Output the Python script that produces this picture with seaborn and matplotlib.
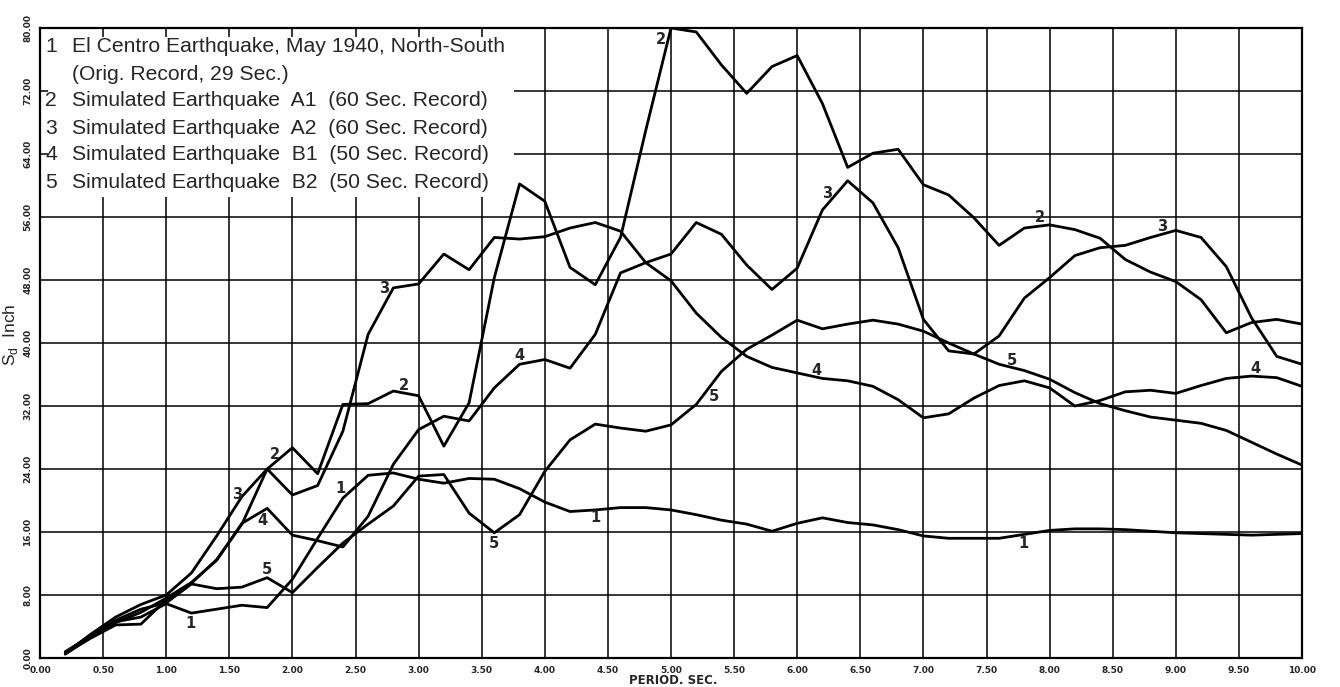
import numpy as np
import pandas as pd
import matplotlib
matplotlib.use("Agg")
import matplotlib.pyplot as plt
from matplotlib.patches import Rectangle
import seaborn as sns

# ---------------- data ----------------
periods = [round(0.2 * i, 1) for i in range(1, 51)]

el_centro = [0.8, 2.8, 4.6, 5.2, 6.9, 5.7, 6.2, 6.7, 6.4, 10.0,
             15.2, 20.3, 23.2, 23.5, 22.7, 22.2, 22.8, 22.7, 21.5, 19.8,
             18.6, 18.8, 19.1, 19.1, 18.8, 18.2, 17.5, 17.0, 16.1, 17.1,
             17.8, 17.2, 16.9, 16.3, 15.5, 15.2, 15.2, 15.2, 15.7, 16.2,
             16.4, 16.4, 16.3, 16.1, 15.9, 15.8, 15.7, 15.6, 15.7, 15.8]

sim_a1 = [0.6, 2.5, 4.2, 4.3, 7.4, 9.5, 12.5, 17.0, 24.0, 26.7,
          23.4, 32.2, 32.3, 33.9, 33.3, 26.9, 32.4, 48.3, 60.2, 58.0,
          49.6, 47.4, 53.4, 67.0, 80.0, 79.5, 75.3, 71.7, 75.1, 76.5,
          70.4, 62.3, 64.1, 64.6, 60.1, 58.8, 55.9, 52.4, 54.6, 55.0,
          54.4, 53.3, 50.6, 49.0, 47.8, 45.5, 41.3, 42.6, 43.0, 42.4]

sim_a2 = [0.6, 3.0, 5.2, 6.8, 8.0, 10.8, 15.5, 20.5, 24.0, 20.7,
          21.9, 28.8, 41.1, 47.0, 47.5, 51.3, 49.3, 53.4, 53.2, 53.5,
          54.6, 55.3, 54.2, 50.2, 51.3, 55.3, 53.8, 49.9, 46.8, 49.5,
          56.9, 60.6, 57.8, 52.1, 43.0, 39.0, 38.6, 40.9, 45.7, 48.3,
          51.1, 52.1, 52.4, 53.4, 54.3, 53.4, 49.7, 43.2, 38.3, 37.3]

sim_b1 = [0.5, 2.6, 4.5, 5.8, 7.6, 9.6, 12.4, 17.1, 19.0, 15.6,
          14.9, 14.1, 18.0, 24.6, 29.0, 30.7, 30.1, 34.3, 37.3, 37.9,
          36.8, 41.1, 48.9, 50.2, 47.9, 43.8, 40.7, 38.3, 36.9, 36.2,
          35.5, 35.2, 34.5, 32.8, 30.5, 31.0, 33.0, 34.6, 35.2, 34.3,
          32.0, 32.7, 33.8, 34.0, 33.6, 34.6, 35.5, 35.8, 35.6, 34.5]

sim_b2 = [0.5, 2.7, 4.8, 6.2, 7.0, 9.4, 8.8, 9.0, 10.2, 8.3,
          11.5, 14.6, 17.0, 19.3, 23.1, 23.3, 18.4, 15.9, 18.2, 23.7,
          27.7, 29.7, 29.2, 28.8, 29.6, 32.2, 36.4, 39.2, 41.0, 42.9,
          41.8, 42.4, 42.9, 42.4, 41.5, 40.0, 38.6, 37.3, 36.5, 35.4,
          33.7, 32.3, 31.4, 30.6, 30.2, 29.8, 28.9, 27.4, 25.9, 24.5]

curve_ids = ["1", "2", "3", "4", "5"]
legend_lines = [
    ("1", "El Centro Earthquake, May 1940, North-South"),
    ("", "(Orig. Record, 29 Sec.)"),
    ("2", "Simulated Earthquake  A1  (60 Sec. Record)"),
    ("3", "Simulated Earthquake  A2  (60 Sec. Record)"),
    ("4", "Simulated Earthquake  B1  (50 Sec. Record)"),
    ("5", "Simulated Earthquake  B2  (50 Sec. Record)"),
]

# curve number labels placed along the curves (period, Sd, text)
label_x = [1.19, 2.38, 4.40, 7.79, 1.86, 2.88, 4.92, 7.92, 1.56, 2.73,
           6.24, 8.89, 1.76, 3.80, 6.15, 9.63, 1.80, 3.60, 5.34, 7.70]
label_y = [4.4, 21.5, 17.8, 14.5, 25.8, 34.6, 78.6, 55.9, 20.8, 46.9,
           59.0, 54.8, 17.5, 38.4, 36.5, 36.7, 11.2, 14.6, 33.2, 37.8]
label_txt = ["1", "1", "1", "1", "2", "2", "2", "2", "3", "3",
             "3", "3", "4", "4", "4", "4", "5", "5", "5", "5"]

x_ticks = [0.5 * i for i in range(21)]
y_ticks = [8 * i for i in range(11)]

# ---------------- frame ----------------
series = [el_centro, sim_a1, sim_a2, sim_b1, sim_b2]
df = pd.concat(
    [pd.DataFrame({"period": periods, "sd": vals, "curve": cid})
     for cid, vals in zip(curve_ids, series)],
    ignore_index=True)

sns.set_style("white")
plt.rcParams["font.family"] = ["Liberation Sans", "DejaVu Sans"]

W, H = 1340, 687
fig = plt.figure(figsize=(W / 100, H / 100), dpi=100)
L, R, T, B = 40, 1302, 28, 658
ax = fig.add_axes([L / W, 1 - B / H, (R - L) / W, (B - T) / H])

sns.lineplot(data=df, x="period", y="sd", hue="curve",
             palette=["black"] * 5, legend=False, estimator=None,
             sort=False, linewidth=2.0, ax=ax, zorder=3)

ax.set_xlim(0, 10)
ax.set_ylim(0, 80)
ax.set_xticks(x_ticks)
ax.set_yticks(y_ticks)
ax.set_xticklabels([f"{v:.2f}" for v in x_ticks])
ax.set_yticklabels([f"{v:.2f}" for v in y_ticks])
ax.grid(True, color="black", linewidth=1.1)
ax.set_axisbelow(True)
for s in ax.spines.values():
    s.set_color("black")
    s.set_linewidth(1.6)
ax.tick_params(axis="both", direction="inout", length=7, width=1.0,
               color="black", pad=2)
for lab in ax.get_xticklabels():
    lab.set_fontfamily("DejaVu Sans")
    lab.set_fontweight("bold")
    lab.set_fontsize(6.5)
for lab in ax.get_yticklabels():
    lab.set_fontfamily("DejaVu Sans")
    lab.set_fontweight("bold")
    lab.set_fontsize(6.5)
    lab.set_rotation(90)
    lab.set_va("center")
ax.set_xlabel("")
ax.set_ylabel("")

# white legend panel in the upper-left corner
ax.add_patch(Rectangle((0.006, (B - 197) / (B - T)), (506 - L) / (R - L),
                       (197 - 37) / (B - T), transform=ax.transAxes,
                       facecolor="white", edgecolor="none", zorder=2.5))
row_py = [47, 74, 101, 128, 155, 182]
for (num, txt), py in zip(legend_lines, row_py):
    yf = (B - py) / (B - T)
    if num:
        ax.text(5 / (R - L), yf, num, transform=ax.transAxes, fontsize=15.2,
                va="center", ha="left", zorder=4)
    ax.text(32 / (R - L), yf, txt, transform=ax.transAxes, fontsize=15.2,
            va="center", ha="left", zorder=4)

for xv, yv, t in zip(label_x, label_y, label_txt):
    ax.text(xv, yv, t, fontsize=10.5, fontweight="bold",
            fontfamily="DejaVu Sans", ha="center", va="center", zorder=4)

fig.text(10 / W, 1 - 335 / H, "S$_\\mathregular{d}$  Inch", rotation=90,
         fontsize=12.5, ha="center", va="center")
fig.text(673 / W, 1 - 680 / H, "PERIOD. SEC.", fontsize=8.5,
         fontweight="bold", fontfamily="DejaVu Sans", ha="center",
         va="center")

fig.savefig("out.png", dpi=100)
